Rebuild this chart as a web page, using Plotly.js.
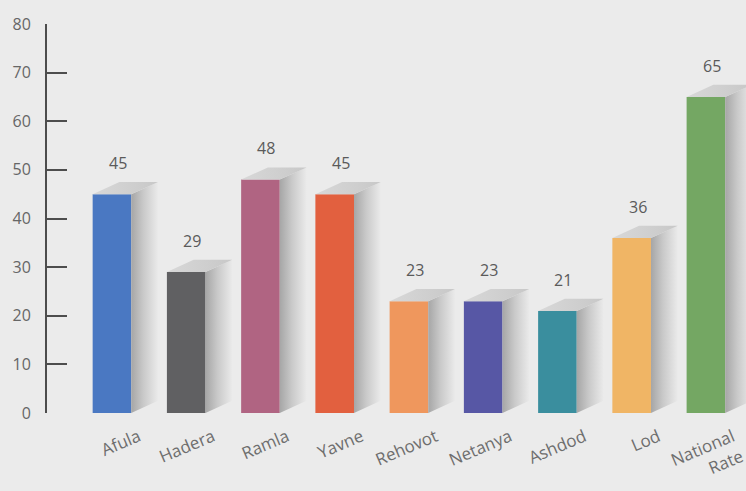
<!DOCTYPE html>
<html>
<head>
<meta charset="utf-8">
<script src="https://cdn.plot.ly/plotly-3.0.1.min.js"></script>
<style>
html,body{margin:0;padding:0;background:#ebebeb;}
#chart{width:746px;height:491px;}
</style>
</head>
<body>
<div id="chart"></div>
<script>
const categories = ['Afula','Hadera','Ramla','Yavne','Rehovot','Netanya','Ashdod','Lod','National<br>Rate'];
const values = [45, 29, 48, 45, 23, 23, 21, 36, 65];
const barColors = ['#4a78c2','#606062','#b06482','#e2603f','#ef975d','#5757a5','#3a8e9e','#f0b565','#74a763'];
const yTicks = [0,10,20,30,40,50,60,70,80];

const idx = values.map((v,i)=>i);
const W = 0.52, DX = 0.36, DY = 2.5;

const traces = [];
traces.push({
  type:'bar', x: idx, y: values, width: W,
  marker:{color: barColors, line:{width:0}},
  hoverinfo:'skip', showlegend:false
});
// 3D side and top faces, derived from the data
values.forEach((v,i)=>{
  const r = i + W/2, l = i - W/2;
  traces.push({
    type:'scatter', mode:'lines', showlegend:false, hoverinfo:'skip',
    x:[r, r+DX, r+DX, r, r], y:[0, DY, v+DY, v, 0],
    line:{width:0}, fill:'toself',
    fillgradient:{type:'horizontal', colorscale:[[0,'#a6a6a6'],[0.45,'#c9c9c9'],[1,'#eaeaea']]}
  });
  traces.push({
    type:'scatter', mode:'lines', showlegend:false, hoverinfo:'skip',
    x:[l, l+DX, r+DX, r, l], y:[v, v+DY, v+DY, v, v],
    line:{width:0}, fill:'toself',
    fillgradient:{type:'horizontal', colorscale:[[0,'#d8d8d8'],[1,'#c8c8c8']]}
  });
});

const annotations = values.map((v,i)=>({
  x: i + 0.08, y: v + DY, xref:'x', yref:'y', text: String(v), showarrow:false,
  yanchor:'bottom', yshift: 6, font:{family:'Open Sans, sans-serif', size:16, color:'#5a5a5a'}
}));

const layout = {
  width:746, height:491,
  paper_bgcolor:'#ebebeb', plot_bgcolor:'#ebebeb',
  margin:{l:47, r:0, t:24, b:78},
  showlegend:false,
  xaxis:{
    range:[-0.875, 8.54], showgrid:false, zeroline:false, showline:false, ticks:'',
    tickmode:'array', tickvals: idx.map(i=>i+0.36), ticktext: categories,
    tickangle:-23, tickfont:{family:'Open Sans, sans-serif', size:17, color:'#6e6e6e'},
    ticklabelstandoff:10, ticklabeloverflow:'allow'
  },
  yaxis:{
    range:[0,80], showgrid:false, zeroline:false,
    showline:true, linecolor:'#4d4d4d', linewidth:2,
    ticks:'inside', ticklen:20, tickwidth:2, tickcolor:'#4d4d4d',
    tickmode:'array', tickvals:yTicks,
    tickfont:{family:'Open Sans, sans-serif', size:16, color:'#666666'},
    ticklabelstandoff:11
  },
  annotations: annotations
};

Plotly.newPlot('chart', traces, layout, {displayModeBar:false, staticPlot:true});
</script>
</body>
</html>
